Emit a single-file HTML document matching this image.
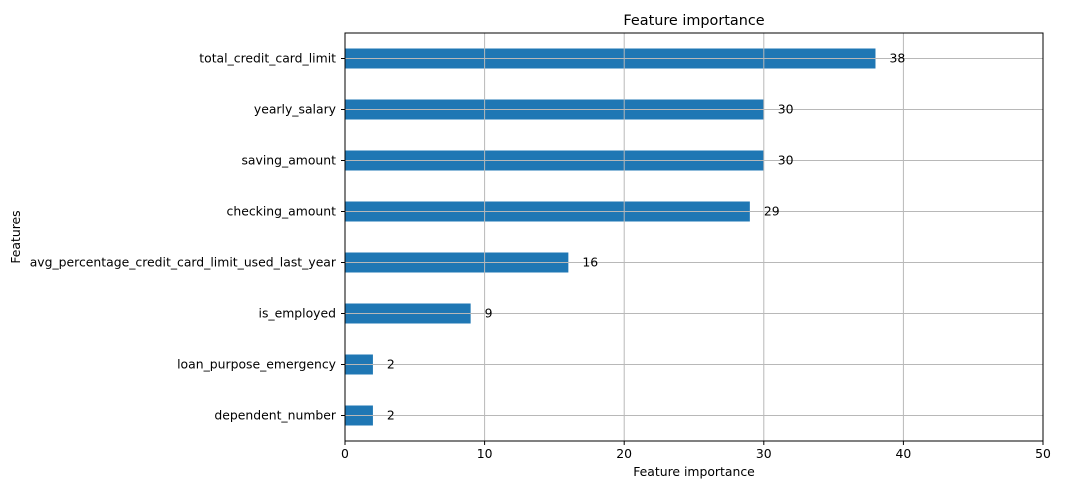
<!DOCTYPE html>
<html><head><meta charset="utf-8"><style>
html,body{margin:0;padding:0;background:#fff;}
svg{display:block;font-family:"DejaVu Sans","Liberation Sans",sans-serif;}
</style></head><body>
<svg id="chart" width="1067" height="491"></svg>
<script>
const categories = ["total_credit_card_limit","yearly_salary","saving_amount","checking_amount","avg_percentage_credit_card_limit_used_last_year","is_employed","loan_purpose_emergency","dependent_number"];
const values = [38,30,30,29,16,9,2,2];
const xTicks = [0,10,20,30,40,50];
const L=345,R=1043,T=33,B=441,xMax=50,FS=12.4;
const NS="http://www.w3.org/2000/svg";
const svg=document.getElementById('chart');
const xs=v=>L+(R-L)*v/xMax;
const step=(B-T)/categories.length;
const yc=i=>T+step*(i+0.5);
function mk(tag,attrs,txt){const e=document.createElementNS(NS,tag);for(const k in attrs)e.setAttribute(k,attrs[k]);if(txt!==undefined)e.textContent=txt;svg.appendChild(e);return e;}
categories.forEach((c,i)=>{
  const r=mk('rect',{x:L,y:yc(i)-10,width:xs(values[i])-L,height:20,fill:'#1f77b4'});
  
  
});
xTicks.forEach(t=>{
  const g=mk('line',{x1:xs(t),x2:xs(t),y1:T,y2:B,stroke:'#b8b8b8','stroke-width':1});
  
  
  mk('line',{x1:xs(t),x2:xs(t),y1:B,y2:B+4,stroke:'#000'});
  const tl=mk('text',{x:xs(t),y:B+17,'text-anchor':'middle','font-size':FS,fill:'#000'},t);
  
  
});
categories.forEach((c,i)=>{
  const g=mk('line',{x1:L,x2:R,y1:yc(i),y2:yc(i),stroke:'#b8b8b8','stroke-width':1});
  
  
  mk('line',{x1:L-4,x2:L,y1:yc(i),y2:yc(i),stroke:'#000'});
  const tl=mk('text',{x:L-9,y:yc(i)+4,'text-anchor':'end','font-size':FS,fill:'#000'},c);
  
  
  const vl=mk('text',{x:xs(values[i])+14,y:yc(i)+4,'font-size':FS,fill:'#000'},values[i]);
  
  
});
const f=mk('rect',{x:L,y:T,width:R-L,height:B-T,fill:'none',stroke:'#000','stroke-width':1});


const ti=mk('text',{x:(L+R)/2,y:T-8,'text-anchor':'middle','font-size':14.4,fill:'#000'},'Feature importance');


const xt=mk('text',{x:(L+R)/2,y:B+35,'text-anchor':'middle','font-size':FS,fill:'#000'},'Feature importance');


const yt=mk('text',{x:20,y:(T+B)/2,'text-anchor':'middle','font-size':FS,fill:'#000',transform:'rotate(-90 20 '+((T+B)/2)+')'},'Features');


</script>
</body></html>
